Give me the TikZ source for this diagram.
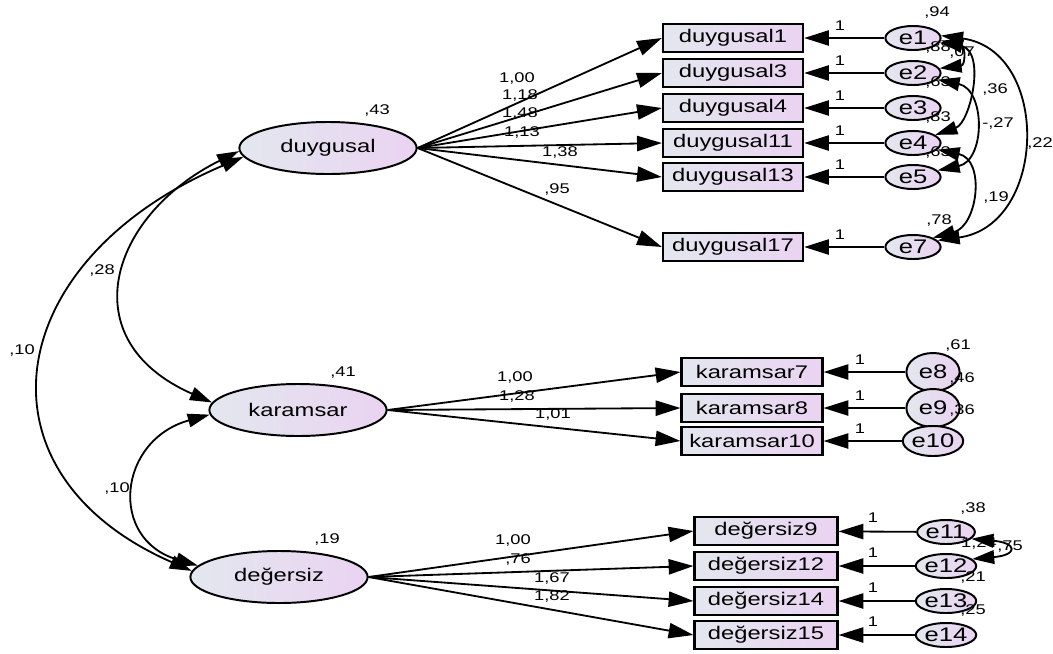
\documentclass[tikz,border=0pt]{standalone}
\usepackage{fontspec}
\setmainfont{Liberation Sans}[FakeStretch=1.3]
\usepackage{xcolor}
\usetikzlibrary{shapes.geometric,arrows.meta,positioning,calc}

\definecolor{shadeL}{HTML}{E3E7EE}
\definecolor{shadeR}{HTML}{EAD3F2}

\tikzset{
  latent/.style={ellipse,draw,line width=1.4pt,left color=shadeL,right color=shadeR,
    minimum width=4.43cm,minimum height=1.3cm,inner sep=0pt,font=\fontsize{13}{15}\selectfont},
  obsbox/.style={rectangle,draw,line width=1.6pt,left color=shadeL,right color=shadeR,
    minimum width=3.5cm,minimum height=0.7cm,inner sep=0pt,font=\fontsize{13}{15}\selectfont},
  errnode/.style={ellipse,draw,line width=1.4pt,left color=shadeL,right color=shadeR,
    minimum width=1.38cm,minimum height=0.6cm,inner sep=0pt,font=\fontsize{14}{16}\selectfont},
  lbl/.style={inner sep=0pt,font=\fontsize{10}{12}\selectfont},
  load/.style={line width=1.3pt,-{Triangle[length=0.62cm,width=0.38cm]}},
  cov/.style={line width=1.3pt,{Triangle[length=0.55cm,width=0.34cm]}-{Triangle[length=0.55cm,width=0.34cm]}},
}

\begin{document}
\begin{tikzpicture}[x=0.025cm,y=-0.025cm]
    \useasboundingbox (0,0) rectangle (1053,653);

    % Latent factors
    \node[latent] (duy) at (328,148) {duygusal};
    \node[latent] (kar) at (298,410) {karamsar};
    \node[latent] (deg) at (279,577) {değersiz};
    \node[lbl] (vduy) at (377,110) {,43};
    \node[lbl] (vkar) at (343,373) {,41};
    \node[lbl] (vdeg) at (327,539) {,19};

    % duygusal items
    \node[obsbox] (d1) at (733,38) {duygusal1};
    \node[obsbox] (d3) at (733,73) {duygusal3};
    \node[obsbox] (d4) at (733,108) {duygusal4};
    \node[obsbox] (d11) at (733,143) {duygusal11};
    \node[obsbox] (d13) at (733,177) {duygusal13};
    \node[obsbox] (d17) at (733,247) {duygusal17};

    \node[errnode] (e1) at (913,38) {e1};
    \node[errnode] (e2) at (913,73) {e2};
    \node[errnode] (e3) at (913,108) {e3};
    \node[errnode] (e4) at (913,143) {e4};
    \node[errnode] (e5) at (913,177) {e5};
    \node[errnode] (e7) at (913,247) {e7};

    % karamsar items
    \node[obsbox,minimum width=3.52cm] (k7) at (752,372) {karamsar7};
    \node[obsbox,minimum width=3.52cm] (k8) at (752,408) {karamsar8};
    \node[obsbox,minimum width=3.52cm] (k10) at (752,441) {karamsar10};

    \node[errnode,minimum width=1.33cm,minimum height=0.95cm] (e8) at (933,372) {e8};
    \node[errnode,minimum width=1.33cm,minimum height=0.95cm] (e9) at (933,408) {e9};
    \node[errnode,minimum width=1.33cm,minimum height=0.75cm] (e10) at (933,441) {e10};

    % degersiz items
    \node[obsbox,minimum width=3.57cm] (g9) at (766,531) {değersiz9};
    \node[obsbox,minimum width=3.57cm] (g12) at (766,566) {değersiz12};
    \node[obsbox,minimum width=3.57cm] (g14) at (766,601) {değersiz14};
    \node[obsbox,minimum width=3.57cm] (g15) at (766,635) {değersiz15};

    \node[errnode,minimum width=1.43cm] (e11) at (946,532) {e11};
    \node[errnode,minimum width=1.43cm] (e12) at (946,566) {e12};
    \node[errnode,minimum width=1.43cm] (e13) at (946,601) {e13};
    \node[errnode,minimum width=1.43cm] (e14) at (946,635) {e14};

    % Loadings
    \draw[load] (duy.east) -- (d1.west);
    \draw[load] (duy.east) -- (d3.west);
    \draw[load] (duy.east) -- (d4.west);
    \draw[load] (duy.east) -- (d11.west);
    \draw[load] (duy.east) -- (d13.west);
    \draw[load] (duy.east) -- (d17.west);
    \draw[load] (kar.east) -- (k7.west);
    \draw[load] (kar.east) -- (k8.west);
    \draw[load] (kar.east) -- (k10.west);
    \draw[load] (deg.east) -- (g9.west);
    \draw[load] (deg.east) -- (g12.west);
    \draw[load] (deg.east) -- (g14.west);
    \draw[load] (deg.east) -- (g15.west);

    \node[lbl] (l1) at (517,78) {1,00};
    \node[lbl] (l3) at (520,95) {1,18};
    \node[lbl] (l4) at (520,113) {1,48};
    \node[lbl] (l11) at (522,132) {1,13};
    \node[lbl] (l13) at (560,152) {1,38};
    \node[lbl] (l17) at (557,189) {,95};
    \node[lbl] (l7k) at (515,377) {1,00};
    \node[lbl] (l8k) at (517,396) {1,28};
    \node[lbl] (l10k) at (553,414) {1,01};
    \node[lbl] (l9g) at (513,540) {1,00};
    \node[lbl] (l12g) at (518,559) {,76};
    \node[lbl] (l14g) at (552,578) {1,67};
    \node[lbl] (l15g) at (552,596) {1,82};

    % Error terms
    \draw[load] (e1) -- (d1);
    \draw[load] (e2) -- (d3);
    \draw[load] (e3) -- (d4);
    \draw[load] (e4) -- (d11);
    \draw[load] (e5) -- (d13);
    \draw[load] (e7) -- (d17);
    \draw[load] (e8) -- (k7);
    \draw[load] (e9) -- (k8);
    \draw[load] (e10) -- (k10);
    \draw[load] (e11) -- (g9);
    \draw[load] (e12) -- (g12);
    \draw[load] (e13) -- (g14);
    \draw[load] (e14) -- (g15);

    \node[lbl] (o1) at (840,26) {1};
    \node[lbl] (o3) at (840,61) {1};
    \node[lbl] (o4) at (840,96) {1};
    \node[lbl] (o11) at (840,131) {1};
    \node[lbl] (o13) at (840,165) {1};
    \node[lbl] (o17) at (840,235) {1};
    \node[lbl] (o7k) at (860,360) {1};
    \node[lbl] (o8k) at (860,396) {1};
    \node[lbl] (o10k) at (860,429) {1};
    \node[lbl] (o9g) at (873,518) {1};
    \node[lbl] (o12g) at (873,553) {1};
    \node[lbl] (o14g) at (873,588) {1};
    \node[lbl] (o15g) at (873,622) {1};

    % Error variances
    \node[lbl] (v1) at (937,12) {,94};
    \node[lbl] (v2) at (938,47) {,88};
    \node[lbl] (v3) at (938,82) {,63};
    \node[lbl] (v4) at (938,117) {,83};
    \node[lbl] (v5) at (938,152) {,63};
    \node[lbl] (v7) at (939,220) {,78};
    \node[lbl] (v8) at (958,345) {,61};
    \node[lbl] (v9) at (962,378) {,46};
    \node[lbl] (v10) at (962,410) {,36};
    \node[lbl] (v11) at (973,508) {,38};
    \node[lbl] (v12) at (979,543) {1,24};
    \node[lbl] (v13) at (973,577) {,21};
    \node[lbl] (v14) at (973,610) {,25};

    % Covariances
    \node[lbl] (c12) at (962,52) {,07};
    \node[lbl] (c14) at (995,89) {,36};
    \node[lbl] (c25) at (998,123) {-,27};
    \node[lbl] (c17) at (1040,143) {,22};
    \node[lbl] (c47) at (996,197) {,19};
    \node[lbl] (c1112) at (1010,547) {,75};
    \node[lbl] (cdk) at (102,270) {,28};
    \node[lbl] (cdg) at (22,350) {,10};
    \node[lbl] (ckg) at (117,488) {,10};

    \draw[cov] (e1.-10) .. controls +(26,3) and +(26,-3) .. (e2.10);
    \draw[cov] (e1.-5) .. controls +(45,12) and +(35,-12) .. (e4.20);
    \draw[cov] (e2.-15) .. controls +(48,10) and +(48,-10) .. (e5.15);
    \draw[cov] (e1.5) .. controls +(110,15) and +(110,-15) .. (e7.15);
    \draw[cov] (e4.-15) .. controls +(48,10) and +(45,-12) .. (e7.25);
    \draw[cov] (e11.-15) .. controls +(46,4) and +(46,-4) .. (e12.15);

    \draw[cov] (duy.182) .. controls (110,215) and (70,340) .. (kar.175);
    \draw[cov] (duy.186) .. controls (0,260) and (-32,473) .. (deg.176);
    \draw[cov] (kar.183) .. controls (118,440) and (108,539) .. (deg.172);
\end{tikzpicture}
\end{document}
